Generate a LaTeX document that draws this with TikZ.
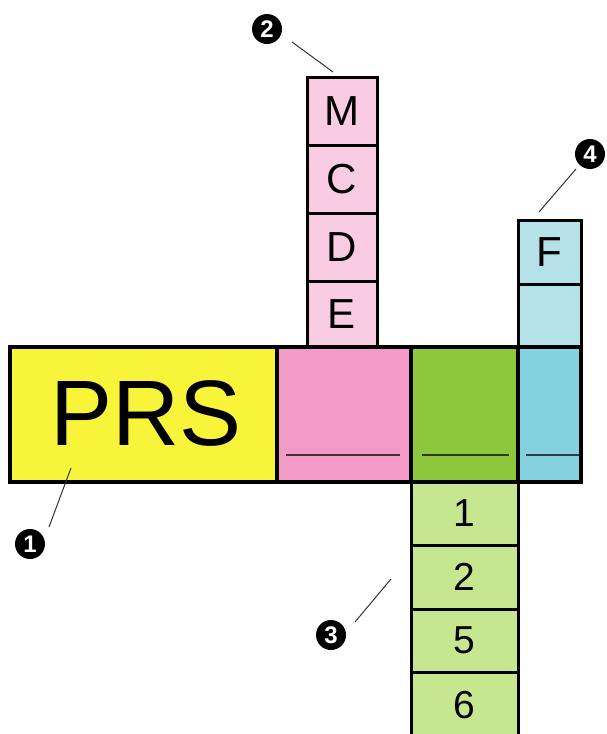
\documentclass[tikz,border=0pt]{standalone}
\usepackage{fontspec}
\setmainfont{Liberation Sans}
\usetikzlibrary{calc}
\definecolor{cyel}{HTML}{F8F43A}
\definecolor{cpink}{HTML}{F49AC8}
\definecolor{cpinkl}{HTML}{F9CCE4}
\definecolor{cgreen}{HTML}{8DC83C}
\definecolor{cgreenl}{HTML}{C6E790}
\definecolor{cblue}{HTML}{84D1DF}
\definecolor{cbluel}{HTML}{B4E2E8}
\tikzset{
  cell/.style={draw=black, line width=3pt, rectangle, inner sep=0pt, font=\fontsize{42}{42}\selectfont},
  numcell/.style={cell, font=\fontsize{39}{39}\selectfont},
  big/.style={draw=black, line width=3.5pt, rectangle, inner sep=0pt, minimum height=135pt},
  uline/.style={draw=black, draw opacity=0.7, line width=1.5pt},
  callout/.style={circle, fill=black, inner sep=0pt, minimum size=30pt, text=white, font=\bfseries\fontsize{24}{24}\selectfont},
  leader/.style={draw=black!80, line width=1pt}
}
\begin{document}
\begin{tikzpicture}[x=1pt,y=-1pt]
\useasboundingbox (0,0) rectangle (607,734);
% pink column
\node[cell, fill=cpinkl, minimum width=70pt, minimum height=68pt] (m) at (342,111) {M};
\node[cell, fill=cpinkl, minimum width=70pt, minimum height=68pt] (c) at (342,179) {C};
\node[cell, fill=cpinkl, minimum width=70pt, minimum height=68pt] (d) at (342,247) {D};
\node[cell, fill=cpinkl, minimum width=70pt, minimum height=66pt] (e) at (342,314) {E};
% blue column
\node[cell, fill=cbluel, minimum width=63pt, minimum height=64pt] (f) at (549.5,252) {F};
\node[cell, fill=cbluel, minimum width=63pt, minimum height=63pt] (g) at (549.5,315.5) {};
% green column
\node[numcell, fill=cgreenl, minimum width=107pt, minimum height=63pt] (n1) at (464.5,513.5) {1};
\node[numcell, fill=cgreenl, minimum width=107pt, minimum height=64pt] (n2) at (464.5,577) {2};
\node[numcell, fill=cgreenl, minimum width=107pt, minimum height=63pt] (n5) at (464.5,640.5) {5};
\node[numcell, fill=cgreenl, minimum width=107pt, minimum height=66pt] (n6) at (464.5,705) {6};
% main row
\node[big, fill=cyel, minimum width=267pt] (prs) at (143.5,414.5) {};
\node[font=\fontsize{93}{93}\selectfont, inner sep=0pt] (prst) at (146,413) {PRS};
\node[big, fill=cpink, minimum width=134pt] (pk) at (344,414.5) {};
\node[big, fill=cgreen, minimum width=107pt] (gr) at (464.5,414.5) {};
\node[big, fill=cblue, minimum width=63pt] (bl) at (549.5,414.5) {};
% underscores
\draw[uline] ($(pk.south west)+(11,-29)$) -- ($(pk.south east)+(-13,-29)$);
\draw[uline] ($(gr.south west)+(13,-29)$) -- ($(gr.south east)+(-11,-29)$);
\draw[uline] ($(bl.south west)+(10,-29)$) -- ($(bl.south east)+(-4,-29)$);
% callouts
\node[callout] (k1) at (30,544) {1};
\node[callout] (k2) at (267,29) {2};
\node[callout] (k3) at (331,635) {3};
\node[callout] (k4) at (590,154) {4};
\coordinate (a1) at (71,468); \coordinate (b1) at (49,527);
\coordinate (a2) at (292,42); \coordinate (b2) at (333,72);
\coordinate (a3) at (355,622); \coordinate (b3) at (391,579);
\coordinate (a4) at (576,169); \coordinate (b4) at (539,212);
\draw[leader] (a1) -- (b1);
\draw[leader] (a2) -- (b2);
\draw[leader] (a3) -- (b3);
\draw[leader] (a4) -- (b4);
\end{tikzpicture}
\end{document}
